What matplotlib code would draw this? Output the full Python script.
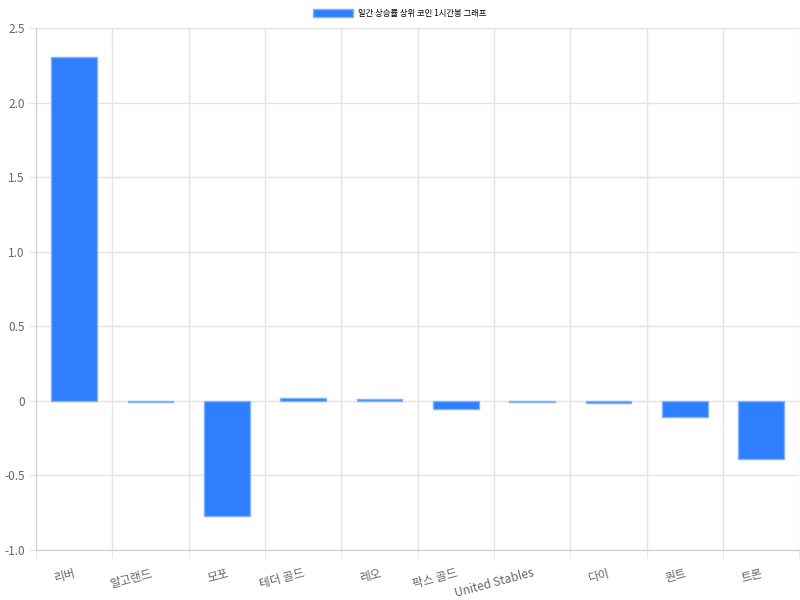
import numpy as np
import matplotlib.pyplot as plt

plt.rcParams['font.family'] = ['Noto Sans CJK KR', 'DejaVu Sans']

coins = ['리버', '알고랜드', '모포', '테더 골드', '레오', '팍스 골드', 'United Stables', '다이', '퀀트', '트론']
change = [2.307, -0.005, -0.771, 0.02, 0.01, -0.054, -0.005, -0.015, -0.107, -0.389]
yticks = [-1.0, -0.5, 0, 0.5, 1.0, 1.5, 2.0, 2.5]
ylabels = ['-1.0', '-0.5', '0', '0.5', '1.0', '1.5', '2.0', '2.5']

fig = plt.figure(figsize=(8, 6), dpi=100)
ax = fig.add_axes([0.045, 0.0833, 0.954, 0.87])

x = np.arange(len(coins))
ax.bar(x, change, width=0.6, color='#2d7ffe', edgecolor='#80b2ff', linewidth=1,
       label='일간 상승률 상위 코인 1시간봉 그래프', zorder=3)

ax.set_xlim(-0.5, len(coins) - 0.5)
ax.set_ylim(-1.0, 2.5)
ax.set_yticks(yticks)
ax.set_yticklabels(ylabels)
ax.set_xticks(x)
ax.set_xticklabels(coins, rotation=15, ha='right', rotation_mode='anchor')
ax.set_xticks(np.arange(len(coins) + 1) - 0.5, minor=True)

ax.grid(False)
ax.yaxis.grid(True, color='#e3e3e3', linewidth=1, zorder=0)
ax.xaxis.grid(True, which='minor', color='#e3e3e3', linewidth=1, zorder=0)
ax.tick_params(axis='x', which='major', length=0, labelsize=8.5, labelcolor='#666666', pad=12)
ax.tick_params(axis='x', which='minor', length=6, color='#e3e3e3')
ax.tick_params(axis='y', length=5, pad=3, color='#e3e3e3', labelsize=8.5, labelcolor='#666666')

for s in ['top', 'right']:
    ax.spines[s].set_visible(False)
for s in ['left', 'bottom']:
    ax.spines[s].set_color('#cccccc')

fig.legend(loc='center', bbox_to_anchor=(0.5, 0.977), frameon=False, fontsize=6,
           handlelength=4.8, handleheight=1.1, handletextpad=0.6, borderaxespad=0)

fig.savefig('out.png', dpi=100)
